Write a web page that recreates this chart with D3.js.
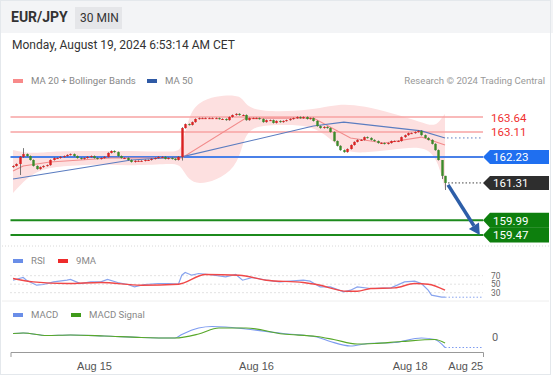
<!DOCTYPE html>
<meta charset="utf-8">
<title>EUR/JPY 30 MIN</title>
<style>
body { margin: 0; background: #fff; }
svg { display: block; font-family: Roboto, "Liberation Sans", Arial, sans-serif; }
</style>
<svg width="553" height="375"></svg>
<script src="https://d3js.org/d3.v7.min.js"></script>
<script>

// 30 min candles, Aug 14 12:00 -> Aug 19 06:30 (close of each candle)
var firstOpen = 161.87;
var closes = [
  161.91, 161.98, 162.23, 162.33, 162.26, 162.12, 161.91, 161.80, 161.87, 161.91,
  161.94, 162.12, 162.19, 162.19, 162.23, 162.26, 162.30, 162.33, 162.26, 162.19,
  162.16, 162.19, 162.23, 162.26, 162.19, 162.16, 162.19, 162.23, 162.37, 162.44,
  162.40, 162.26, 162.19, 162.19, 162.12, 162.05, 162.09, 162.09, 162.09, 162.12,
  162.12, 162.16, 162.19, 162.23, 162.23, 162.16, 162.19, 162.16, 162.12, 162.23,
  163.25, 163.39, 163.36, 163.46, 163.57, 163.60, 163.60, 163.60, 163.60, 163.60,
  163.60, 163.57, 163.57, 163.53, 163.64, 163.71, 163.75, 163.71, 163.71, 163.53,
  163.60, 163.60, 163.60, 163.57, 163.46, 163.53, 163.53, 163.43, 163.50, 163.46,
  163.50, 163.53, 163.57, 163.60, 163.64, 163.60, 163.64, 163.57, 163.60, 163.50,
  163.32, 163.25, 163.29, 163.25, 163.11, 162.79, 162.62, 162.47, 162.40, 162.51,
  162.65, 162.76, 162.83, 162.83, 162.93, 162.90, 162.83, 162.79, 162.72, 162.72,
  162.69, 162.72, 162.79, 162.79, 162.79, 162.93, 163.00, 163.07, 163.07, 163.11,
  163.15, 163.00, 162.90, 162.83, 162.69, 162.47, 162.12, 161.56, 161.31
];
// candles with visible long wicks
var wickIdx  = [2, 3, 50, 127, 128];
var wickHigh = [162.26, 162.54, 163.28, 161.62, 161.56];
var wickLow  = [161.59, 162.20, 162.10, 161.45, 161.06];

// moving averages and Bollinger bands (candle index -> price)
var ma20Idx = [0, 3, 11, 29, 50, 69, 89, 100, 110, 121, 128];
var ma20Val = [161.73, 161.91, 162.05, 162.19, 162.19, 163.60, 163.60, 162.90, 162.72, 162.93, 162.65];
var ma50Idx = [0, 35, 50, 89, 98, 121, 128];
var ma50Val = [161.45, 162.12, 162.23, 163.32, 163.46, 163.15, 162.90];
var bbIdx   = [0, 4, 8, 14, 26, 38, 48, 50, 52, 55, 60, 66, 68, 70, 79, 88, 94, 98, 104, 112, 121, 125, 127, 128];
var bbUpper = [162.47, 162.37, 162.37, 162.44, 162.44, 162.44, 162.40, 162.47, 163.71, 164.17, 164.38, 164.42, 164.31,
               163.89, 163.82, 163.89, 164.03, 164.10, 164.03, 163.78, 163.46, 163.29, 163.60, 163.75];
var bbLower = [160.95, 161.48, 161.77, 161.91, 161.98, 161.91, 162.02, 161.87, 161.41, 161.27, 161.38, 161.84, 162.65,
               163.32, 163.36, 163.36, 162.90, 162.40, 162.37, 162.47, 162.62, 162.30, 161.59, 161.06];

// key levels
var levelValues = [163.64, 163.11, 162.23, 161.31, 159.99, 159.47];
var levelKinds  = ["res", "res", "pivot", "last", "sup", "sup"];
var targetPrice = 159.47;

// RSI panel
var rsiIdx = [0, 3, 4, 7, 9, 12, 16, 17, 20, 23, 26, 28, 31, 34, 36, 39, 43, 46, 49, 50, 51, 53, 55, 58, 63, 66, 68,
              71, 75, 79, 82, 86, 88, 91, 94, 98, 100, 102, 106, 112, 116, 119, 121, 123, 124, 127, 128];
var rsiVal = [59.4, 65.8, 59.4, 47.6, 49.3, 55.4, 59.4, 61.1, 51.6, 55.4, 55.4, 61.1, 54.0, 49.3, 43.6, 49.3, 51.6,
              51.6, 50.0, 71.2, 77.5, 71.2, 75.2, 72.8, 67.2, 72.8, 59.4, 65.8, 59.4, 55.4, 57.1, 59.4, 57.1, 43.6,
              43.6, 31.9, 35.9, 43.6, 39.9, 41.3, 55.4, 57.1, 51.6, 35.9, 24.1, 19.4, 19.4];
var rsiMaIdx = [0, 6, 16, 26, 38, 49, 57, 67, 75, 86, 90, 99, 102, 106, 113, 119, 123, 128];
var rsiMaVal = [63.4, 55.4, 51.6, 54.0, 47.6, 50.0, 72.8, 71.2, 59.4, 54.0, 49.3, 33.5, 33.5, 39.9, 41.3, 51.6, 50.0, 35.9];
var rsiLevels = [70, 50, 30];

// MACD panel
var macdIdx = [0, 3, 10, 17, 27, 38, 48, 50, 55, 59, 63, 69, 80, 90, 94, 100, 105, 113, 121, 125, 128];
var macdVal = [0.09, 0.10, 0.05, 0.06, 0.04, 0.01, 0.00, 0.07, 0.20, 0.23, 0.22, 0.18, 0.09, 0.02, -0.07, -0.16,
               -0.11, -0.09, 0.00, -0.03, -0.19];
var signalIdx = [0, 3, 10, 17, 27, 38, 48, 55, 61, 69, 80, 90, 95, 102, 107, 115, 125, 128];
var signalVal = [0.09, 0.10, 0.05, 0.06, 0.04, 0.01, 0.00, 0.08, 0.20, 0.20, 0.08, 0.03, -0.03, -0.12, -0.11, -0.07,
                 -0.03, -0.10];

// time axis
var tickIdx = [24, 72, 117.5, 134];
var tickLabels = ["Aug 15", "Aug 16", "Aug 18", "Aug 25"];

var svg = d3.select("svg"),
    width = +svg.attr("width"),
    height = +svg.attr("height");

var x = d3.scaleLinear().domain([-0.75, 139.25]).range([10.5, 483]);
var y = d3.scaleLinear().domain([159.47, 163.64]).range([235, 117]);
var yRsi = d3.scaleLinear().domain([30, 70]).range([292.7, 275.7]);
var yMacd = d3.scaleLinear().domain([0, 0.2]).range([338, 328]);
var plotRight = x.range()[1];

var zip = function(a, b) { return a.map(function(d, i) { return [d, b[i]]; }); };

// frame + header
svg.append("rect").attr("x", 0).attr("y", 0).attr("width", width).attr("height", 33).attr("fill", "#f3f4f6");
svg.append("rect").attr("x", 0.5).attr("y", 0.5).attr("width", width - 3).attr("height", height - 1)
    .attr("fill", "none").attr("stroke", "#e4e8ec");
svg.append("text").attr("x", 11).attr("y", 22).attr("font-size", 14).attr("font-weight", "bold")
    .attr("fill", "#333").text("EUR/JPY");
svg.append("rect").attr("x", 75).attr("y", 7).attr("width", 47).attr("height", 22).attr("fill", "#e5e6e9");
svg.append("text").attr("x", 80).attr("y", 22).attr("font-size", 12).attr("fill", "#333").text("30 MIN");
svg.append("text").attr("x", 12).attr("y", 49).attr("font-size", 12).attr("fill", "#333")
    .text("Monday, August 19, 2024 6:53:14 AM CET");

// legends
function legend(items, yy) {
  var g = svg.append("g").attr("font-size", 9.6).attr("fill", "#888");
  items.forEach(function(it) {
    g.append("rect").attr("x", it[0]).attr("y", yy - 5).attr("width", 10).attr("height", 4).attr("fill", it[1]);
    g.append("text").attr("x", it[0] + 18).attr("y", yy).text(it[2]);
  });
}
legend([[13, "#f88a8a", "MA 20 + Bollinger Bands"], [147, "#2f5aa5", "MA 50"]], 84);
svg.append("text").attr("x", 545).attr("y", 84).attr("text-anchor", "end").attr("font-size", 9.6)
    .attr("fill", "#999").text("Research \u00a9 2024 Trading Central");
legend([[13, "#6a8ee8", "RSI"], [58, "#ee2b2b", "9MA"]], 264);
legend([[13, "#6a8ee8", "MACD"], [71, "#3f9a1a", "MACD Signal"]], 318);

// panel separators
svg.append("line").attr("x1", 2).attr("x2", 549).attr("y1", 246).attr("y2", 246)
    .attr("stroke", "#d8d8d8").attr("stroke-dasharray", "1,2");
svg.append("line").attr("x1", 2).attr("x2", 549).attr("y1", 301).attr("y2", 301).attr("stroke", "#eeeeee");

// Bollinger band
svg.append("path")
    .datum(bbIdx.map(function(d, i) { return {i: d, u: bbUpper[i], l: bbLower[i]}; }))
    .attr("fill", "#fde0e0")
    .attr("d", d3.area().curve(d3.curveBasis)
      .x(function(d) { return x(d.i); })
      .y0(function(d) { return y(d.l); })
      .y1(function(d) { return y(d.u); }));

// level lines
var levelColor = {res: "#f7a3a3", pivot: "#4a80e8", last: "#333", sup: "#1c8a1c"};
levelValues.forEach(function(v, i) {
  var k = levelKinds[i];
  if (k === "last") return;
  svg.append("line").attr("x1", 10.5).attr("x2", plotRight).attr("y1", y(v)).attr("y2", y(v))
      .attr("stroke", levelColor[k]).attr("stroke-width", k === "res" ? 1.3 : 2);
});

// moving averages
var line = d3.line().x(function(d) { return x(d[0]); }).y(function(d) { return y(d[1]); });
svg.append("path").datum(zip(ma20Idx, ma20Val)).attr("fill", "none").attr("stroke", "#f28b8b")
    .attr("stroke-width", 1.1).attr("d", line);
svg.append("path").datum(zip(ma50Idx, ma50Val)).attr("fill", "none").attr("stroke", "#5a7cc0")
    .attr("stroke-width", 1.1).attr("d", line);
var ma50Last = ma50Val[ma50Val.length - 1];
svg.append("line").attr("x1", x(ma50Idx[ma50Idx.length - 1]) + 2).attr("x2", plotRight)
    .attr("y1", y(ma50Last)).attr("y2", y(ma50Last))
    .attr("stroke", "#5a7cc0").attr("stroke-dasharray", "1.5,2.5");

// candles
var candles = closes.map(function(c, i) {
  var o = i === 0 ? firstOpen : closes[i - 1];
  var w = wickIdx.indexOf(i);
  return {
    i: i, o: o, c: c,
    h: w >= 0 ? wickHigh[w] : Math.max(o, c) + 0.02,
    l: w >= 0 ? wickLow[w] : Math.min(o, c) - 0.02
  };
});
var cg = svg.append("g");
cg.selectAll("line").data(candles).enter().append("line")
    .attr("x1", function(d) { return Math.round(x(d.i)) + 0.5; })
    .attr("x2", function(d) { return Math.round(x(d.i)) + 0.5; })
    .attr("y1", function(d) { return y(d.h); })
    .attr("y2", function(d) { return y(d.l); })
    .attr("stroke", "#555").attr("stroke-width", 0.8);
cg.selectAll("rect").data(candles).enter().append("rect")
    .attr("x", function(d) { return Math.round(x(d.i)) - 0.7; })
    .attr("width", 2.4)
    .attr("y", function(d) { return y(Math.max(d.o, d.c)); })
    .attr("height", function(d) { return Math.max(1, Math.abs(y(d.o) - y(d.c))); })
    .attr("fill", function(d) { return d.c >= d.o ? "#d92222" : "#3b8a2a"; });

// last price dotted line
var lastI = closes.length - 1, lastC = closes[lastI];
svg.append("line").attr("x1", x(lastI) + 3).attr("x2", plotRight).attr("y1", y(lastC)).attr("y2", y(lastC))
    .attr("stroke", "#444").attr("stroke-dasharray", "1.5,2");

// forecast arrow
var ax0 = x(lastI) + 3, ay0 = y(lastC) + 2, ax1 = x(138.3), ay1 = y(targetPrice);
var ang = Math.atan2(ay1 - ay0, ax1 - ax0);
var headL = 11, headW = 6;
var bx = ax1 - headL * Math.cos(ang), by = ay1 - headL * Math.sin(ang);
svg.append("line").attr("x1", ax0).attr("y1", ay0).attr("x2", bx).attr("y2", by)
    .attr("stroke", "#2d5ea8").attr("stroke-width", 3.5);
svg.append("path").attr("fill", "#2d5ea8")
    .attr("d", "M" + ax1 + "," + ay1 +
      "L" + (bx + headW * Math.sin(ang)) + "," + (by - headW * Math.cos(ang)) +
      "L" + (bx - headW * Math.sin(ang)) + "," + (by + headW * Math.cos(ang)) + "Z");

// level labels
var boxFill = {pivot: "#1f6ff0", last: "#2e2e2e", sup: "#0d7f0d"};
levelValues.forEach(function(v, i) {
  var k = levelKinds[i], yy = y(v);
  if (k === "res") {
    svg.append("text").attr("x", 491).attr("y", yy + 4.5).attr("font-size", 11.5).attr("fill", "#f03030")
        .text(v.toFixed(2));
    return;
  }
  var hh = k === "sup" ? 7.5 : 7;
  svg.append("path").attr("fill", boxFill[k])
      .attr("d", "M" + 483 + "," + yy + "L" + 490 + "," + (yy - hh) + "L" + 549 + "," + (yy - hh) +
        "L" + 549 + "," + (yy + hh) + "L" + 490 + "," + (yy + hh) + "Z");
  svg.append("text").attr("x", 493).attr("y", yy + 4.3).attr("font-size", 11.5).attr("fill", "#fff")
      .text(v.toFixed(2));
});

// RSI
rsiLevels.forEach(function(v) {
  svg.append("line").attr("x1", 10.5).attr("x2", plotRight).attr("y1", yRsi(v)).attr("y2", yRsi(v))
      .attr("stroke", "#c4c4c4").attr("stroke-dasharray", "1,3");
  svg.append("text").attr("x", 491).attr("y", yRsi(v) + 3).attr("font-size", 8.4).attr("fill", "#666")
      .text(v);
});
var rsiLine = d3.line().x(function(d) { return x(d[0]); }).y(function(d) { return yRsi(d[1]); });
svg.append("path").datum(zip(rsiIdx, rsiVal)).attr("fill", "none").attr("stroke", "#88a4ee")
    .attr("stroke-width", 1.2).attr("d", rsiLine);
svg.append("path").datum(zip(rsiMaIdx, rsiMaVal)).attr("fill", "none").attr("stroke", "#f04848")
    .attr("stroke-width", 1.4).attr("d", rsiLine.curve(d3.curveMonotoneX));
var rsiLast = rsiVal[rsiVal.length - 1];
svg.append("line").attr("x1", x(lastI)).attr("x2", plotRight).attr("y1", yRsi(rsiLast)).attr("y2", yRsi(rsiLast))
    .attr("stroke", "#88a4ee").attr("stroke-dasharray", "1.5,2");

// MACD
var macdLine = d3.line().curve(d3.curveMonotoneX)
    .x(function(d) { return x(d[0]); }).y(function(d) { return yMacd(d[1]); });
svg.append("path").datum(zip(macdIdx, macdVal)).attr("fill", "none").attr("stroke", "#7d9bf0")
    .attr("stroke-width", 1.2).attr("d", macdLine);
svg.append("path").datum(zip(signalIdx, signalVal)).attr("fill", "none").attr("stroke", "#58a82a")
    .attr("stroke-width", 1.2).attr("d", macdLine);
var macdLast = macdVal[macdVal.length - 1];
svg.append("line").attr("x1", x(lastI)).attr("x2", plotRight).attr("y1", yMacd(macdLast)).attr("y2", yMacd(macdLast))
    .attr("stroke", "#7d9bf0").attr("stroke-dasharray", "1.5,2");
svg.append("text").attr("x", 492).attr("y", yMacd(0) + 3).attr("font-size", 11).attr("fill", "#666").text("0");

// time axis
var axis = svg.append("g").attr("transform", "translate(0,352)")
    .call(d3.axisBottom(x).tickValues(tickIdx)
      .tickFormat(function(d, i) { return tickLabels[i]; })
      .tickSizeInner(0).tickSizeOuter(5).tickPadding(10));
axis.select(".domain").attr("stroke", "#999");
axis.selectAll("text").attr("font-size", 11).attr("fill", "#555").attr("font-family", null);

</script>
